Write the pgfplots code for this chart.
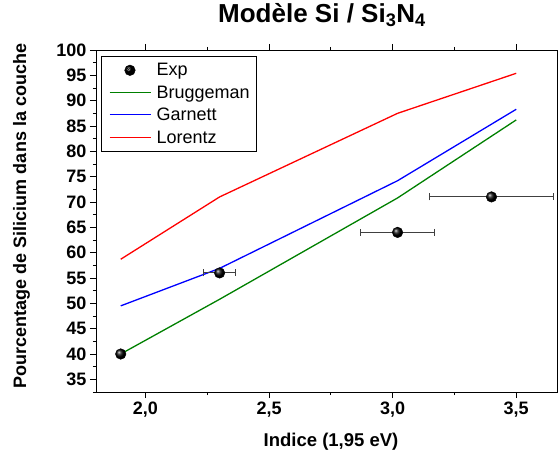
\documentclass[border=0pt]{standalone}
\usepackage{fontspec}
\setmainfont{Liberation Sans}
\usepackage{pgfplots}
\usepackage{pgfplotstable}
\pgfplotsset{compat=1.18}
\usetikzlibrary{calc}

\pgfplotstableread{
x y e
1.90 40 0
2.30 56 0.065
3.02 64 0.15
3.40 71 0.25
}\exptable

\pgfplotstableread{
x y
1.90 40.0
2.30 50.8
3.02 70.8
3.50 86.2
}\brugtab

\pgfplotstableread{
x y
1.90 49.5
2.30 56.9
3.02 74.2
3.50 88.3
}\garntab

\pgfplotstableread{
x y
1.90 58.7
2.30 71.0
3.02 87.5
3.50 95.4
}\lortab

\definecolor{cgreen}{RGB}{0,128,0}
\definecolor{cblue}{RGB}{0,0,255}
\definecolor{cred}{RGB}{255,0,0}
\newcommand{\legline}[1]{\llap{\textcolor{#1}{\rule[5.2pt]{41pt}{1.3pt}}\hspace{6pt}}}

\begin{document}
\begin{tikzpicture}
\begin{axis}[
  scale only axis, width=461pt, height=342pt,
  xmin=1.8, xmax=3.665, ymin=32.5, ymax=100,
  xtick={2,2.5,3,3.5}, minor xtick={2.25,2.75,3.25},
  ytick={35,40,...,100}, minor ytick={32.5,37.5,...,97.5},
  tick align=outside, xtick pos=both, ytick pos=left,
  major tick length=6pt, minor tick length=3pt,
  every tick/.style={black, line width=0.8pt},
  axis line style={black, line width=0.9pt},
  /pgf/number format/assume math mode=true,
  ticklabel style={font=\fontsize{18}{21}\selectfont\bfseries},
  xticklabel style={/pgf/number format/.cd, fixed, fixed zerofill, precision=1, use comma},
  yticklabel style={/pgf/number format/.cd, fixed, precision=0},
  title={Modèle Si / Si\textsubscript{3}N\textsubscript{4}},
  title style={font=\fontsize{26}{30}\selectfont\bfseries, at={(axis description cs:0.4902,1.0629)}, anchor=base},
  xlabel={Indice (1,95 eV)},
  xlabel style={font=\fontsize{18.5}{22}\selectfont\bfseries, at={(axis description cs:0.5098,-0.1608)}, anchor=base},
  ylabel={Pourcentage de Silicium dans la couche},
  ylabel style={font=\fontsize{18}{21}\selectfont\bfseries, at={(axis description cs:-0.1518,0.5146)}, anchor=base},
  legend cell align=left,
  legend style={at={(axis description cs:0.011,0.982)}, anchor=north west,
    font=\fontsize{18}{22}\selectfont,
    inner xsep=4pt, inner ysep=5pt, row sep=4.5pt,
    nodes={inner xsep=2pt}},
]
\addlegendimage{legend image code/.code={\path (-4pt,0pt) (45pt,0pt);
    \fill[fill=black] (20.5pt,0pt) circle[radius=5.3pt];
    \fill[fill=black!45] (19.2pt,1.3pt) circle[radius=2.2pt];
    \fill[fill=black!15] (18.9pt,1.6pt) circle[radius=1.1pt];}}
\addlegendentry{Exp}
\addlegendimage{legend image code/.code={\path (-4pt,0pt) (45pt,0pt);}}
\addlegendentry{\legline{cgreen}Bruggeman}
\addlegendimage{legend image code/.code={\path (-4pt,0pt) (45pt,0pt);}}
\addlegendentry{\legline{cblue}Garnett}
\addlegendimage{legend image code/.code={\path (-4pt,0pt) (45pt,0pt);}}
\addlegendentry{\legline{cred}Lorentz}
\addplot[forget plot, draw=cgreen, line width=1.3pt, mark=none] table[x=x, y=y] {\brugtab};
\addplot[forget plot, draw=cblue, line width=1.3pt, mark=none] table[x=x, y=y] {\garntab};
\addplot[forget plot, draw=cred, line width=1.3pt, mark=none] table[x=x, y=y] {\lortab};
\addplot[forget plot, only marks, mark=ball, mark size=5.3pt, mark options={ball color=black},
  error bars/.cd, x dir=both, x explicit,
  error bar style={black!75, line width=0.9pt},
  error mark options={black!75, mark size=3.5pt, rotate=90, line width=0.9pt}]
  table[x=x, y=y, x error=e] {\exptable};
\end{axis}
\pgfresetboundingbox
\path ($(current axis.south west)+(-96pt,-63pt)$) rectangle ($(current axis.north east)+(1pt,50pt)$);
\end{tikzpicture}
\end{document}
